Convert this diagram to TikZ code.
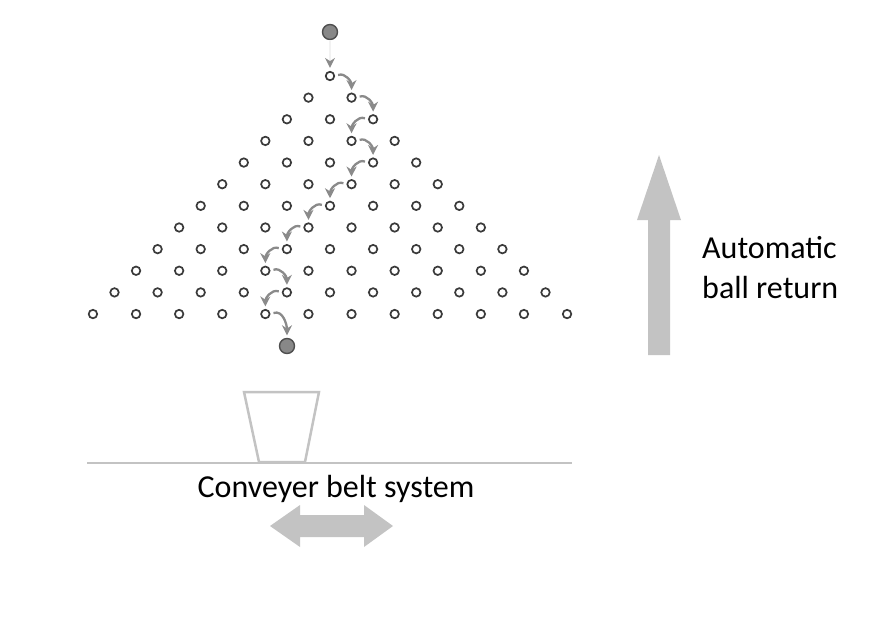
\documentclass[tikz,border=0pt]{standalone}
\usepackage{fontspec}
\setmainfont{Carlito}
\usetikzlibrary{arrows.meta,positioning}
\usepackage{xcolor}
\definecolor{pegline}{RGB}{58,58,58}
\definecolor{ballgray}{RGB}{136,136,136}
\definecolor{pathgray}{RGB}{138,138,138}
\definecolor{lightgray}{RGB}{195,195,195}

\begin{document}
\begin{tikzpicture}[x=1pt,y=1pt,
  peg/.style={circle,draw=pegline,fill=white,line width=1.7pt,minimum size=8.5pt,inner sep=0pt},
  ball/.style={circle,draw=pegline!90,fill=ballgray,line width=1.4pt,minimum size=15pt,inner sep=0pt},
  fall/.style={-{Stealth[length=10pt,width=10pt]},draw=pathgray,line width=2.3pt},
  label/.style={font=\fontsize{32}{40}\selectfont,text=black,inner sep=0pt}
]
  \useasboundingbox (0,0) rectangle (889,-632);

  % Peg triangle
  \foreach \r in {0,...,11} {
    \foreach \k in {0,...,\r} {
      \node[peg] (p-\r-\k) at ({330+21.55*(2*\k-\r)},{-76-21.64*\r}) {};
    }
  }

  % Balls
  \node[ball] (ball-top) at (330,-32) {};
  \node[ball] (ball-bot) at (287,-346) {};

  % Path of the ball
  \draw[-{Stealth[length=10pt,width=10pt,color=pathgray]},draw=gray!10,line width=1.5pt]
    (ball-top.south) -- ([yshift=3pt]p-0-0.north);
  \foreach \r/\k/\d in {0/0/R, 1/1/R, 2/2/L, 3/2/R, 4/3/L, 5/3/L, 6/3/L, 7/3/L, 8/3/L, 9/3/R, 10/4/L} {
    \pgfmathtruncatemacro{\rn}{\r+1}
    \if\d R
      \pgfmathtruncatemacro{\kn}{\k+1}
      \draw[fall] ([xshift=3pt,yshift=1pt]p-\r-\k.east) to[out=20,in=90] ([yshift=2.5pt]p-\rn-\kn.north);
    \else
      \draw[fall] ([xshift=-3pt,yshift=1pt]p-\r-\k.west) to[out=160,in=90] ([yshift=2.5pt]p-\rn-\k.north);
    \fi
  }
  \draw[fall] ([xshift=3pt,yshift=1pt]p-11-4.east) to[out=20,in=90] ([yshift=2.5pt]ball-bot.north);

  % Ball return
  \fill[lightgray] (648,-355) -- (648,-220) -- (637,-220) -- (659,-155)
    -- (681,-220) -- (670,-220) -- (670,-355) -- cycle;
  \node[label,align=left,anchor=west] (lbl-return) at (702,-268) {Automatic\\ball return};

  % Cup and conveyer belt
  \draw[lightgray,line width=2.5pt,line join=miter] (244,-392) -- (319,-392) -- (305,-462) -- (259,-462) -- cycle;
  \draw[lightgray,line width=2pt] (87,-463) -- (572,-463);
  \node[label] (lbl-belt) at (336,-489) {Conveyer belt system};
  \fill[lightgray] (270,-526) -- (300,-505) -- (300,-515) -- (364,-515) -- (364,-505) -- (393,-526)
    -- (364,-547) -- (364,-537) -- (300,-537) -- (300,-547) -- cycle;
\end{tikzpicture}
\end{document}
